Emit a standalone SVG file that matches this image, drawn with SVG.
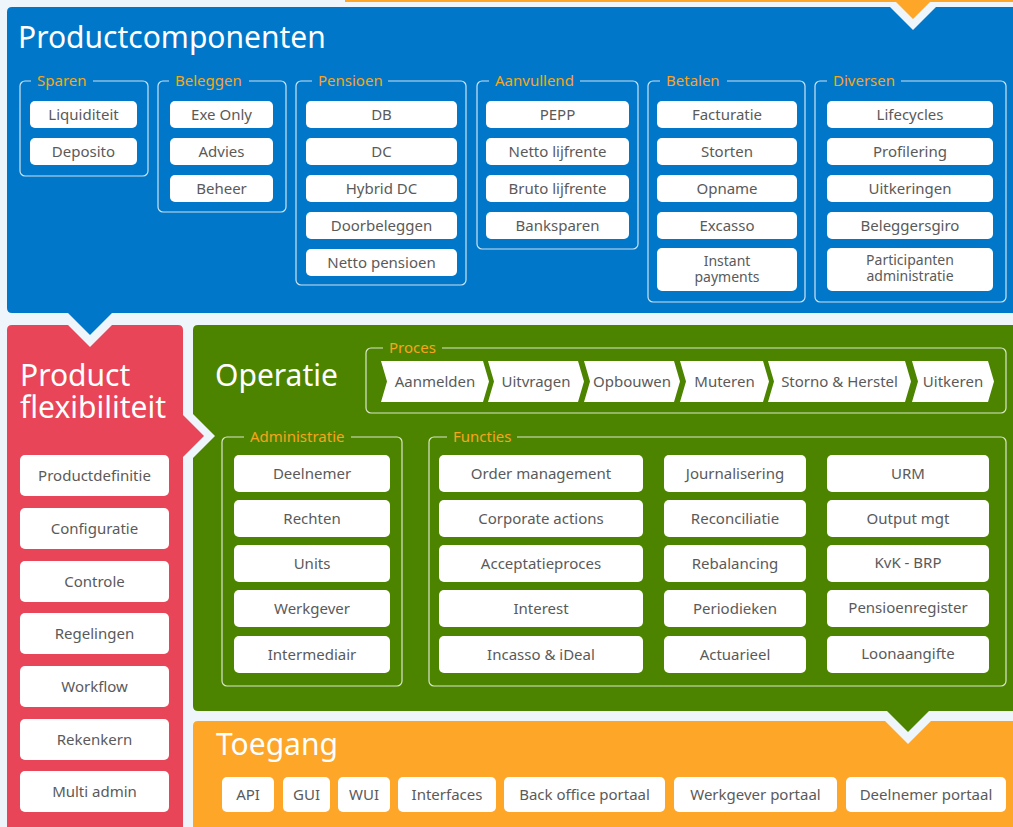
<svg xmlns="http://www.w3.org/2000/svg" width="1013" height="827" viewBox="0 0 1013 827">
<style>
text{font-family:"Noto Sans","Open Sans","DejaVu Sans",sans-serif;}
.title{fill:#ffffff;font-size:30px;}
.box rect{fill:#ffffff;}
.box text,.chev text{fill:#5a5a5a;font-size:15px;text-anchor:middle;}
.box text.sm{font-size:14px;}
.grp{fill:none;stroke:#ffffff;stroke-opacity:0.8;stroke-width:1.2;}
.lbl{fill:#f8a51d;font-size:15px;}
.chev path{fill:#ffffff;}
</style>
<rect width="1013" height="827" fill="#eef5fb"/>
<!-- panels -->
<path d="M345,-10 H1020 V2 H930 L913,19 L896,2 H345 Z" fill="#fea628"/>
<path d="M12,7 H890 L913,30 L936,7 H1020 V313 H112 L90,335 L68,313 H12 Q7,313 7,308 V12 Q7,7 12,7 Z" fill="#0077c8"/>
<path d="M12,325 H68 L90,347 L112,325 H178 Q183,325 183,330 V415 L204,436 L183,457 V830 H7 V330 Q7,325 12,325 Z" fill="#e84558"/>
<path d="M198,325 H1020 V711 H929 L908,732 L887,711 H198 Q193,711 193,706 V458 L215,436 L193,414 V330 Q193,325 198,325 Z" fill="#4c8400"/>
<path d="M198,721 H885 L908,744 L931,721 H1020 V830 H193 V726 Q193,721 198,721 Z" fill="#fea628"/>

<g id="connectors"/>

<!-- Productcomponenten -->
<g id="productcomponenten">
<text class="title" x="18" y="48">Productcomponenten</text>
<g id="sparen">
<rect class="grp" x="20" y="81" width="128" height="95" rx="5"/>
<rect x="31" y="75" width="62" height="12" fill="#0077c8"/>
<text class="lbl" x="37" y="86">Sparen</text>
<g class="box" id="liquiditeit"><rect x="30" y="101" width="107" height="27" rx="5"/><text x="83.5" y="119.5">Liquiditeit</text></g>
<g class="box" id="deposito"><rect x="30" y="138" width="107" height="27" rx="5"/><text x="83.5" y="156.5">Deposito</text></g>
</g>
<g id="beleggen">
<rect class="grp" x="158" y="81" width="128" height="131" rx="5"/>
<rect x="169" y="75" width="80" height="12" fill="#0077c8"/>
<text class="lbl" x="175" y="86">Beleggen</text>
<g class="box" id="exe-only"><rect x="170" y="101" width="103" height="27" rx="5"/><text x="221.5" y="119.5">Exe Only</text></g>
<g class="box" id="advies"><rect x="170" y="138" width="103" height="27" rx="5"/><text x="221.5" y="156.5">Advies</text></g>
<g class="box" id="beheer"><rect x="170" y="175" width="103" height="27" rx="5"/><text x="221.5" y="193.5">Beheer</text></g>
</g>
<g id="pensioen">
<rect class="grp" x="296" y="81" width="170" height="204" rx="5"/>
<rect x="312" y="75" width="76" height="12" fill="#0077c8"/>
<text class="lbl" x="318" y="86">Pensioen</text>
<g class="box" id="db"><rect x="306" y="101" width="151" height="27" rx="5"/><text x="381.5" y="119.5">DB</text></g>
<g class="box" id="dc"><rect x="306" y="138" width="151" height="27" rx="5"/><text x="381.5" y="156.5">DC</text></g>
<g class="box" id="hybrid-dc"><rect x="306" y="175" width="151" height="27" rx="5"/><text x="381.5" y="193.5">Hybrid DC</text></g>
<g class="box" id="doorbeleggen"><rect x="306" y="212" width="151" height="27" rx="5"/><text x="381.5" y="230.5">Doorbeleggen</text></g>
<g class="box" id="netto-pensioen"><rect x="306" y="249" width="151" height="27" rx="5"/><text x="381.5" y="267.5">Netto pensioen</text></g>
</g>
<g id="aanvullend">
<rect class="grp" x="477" y="81" width="161" height="168" rx="5"/>
<rect x="489" y="75" width="91" height="12" fill="#0077c8"/>
<text class="lbl" x="495" y="86">Aanvullend</text>
<g class="box" id="pepp"><rect x="486" y="101" width="143" height="27" rx="5"/><text x="557.5" y="119.5">PEPP</text></g>
<g class="box" id="netto-lijfrente"><rect x="486" y="138" width="143" height="27" rx="5"/><text x="557.5" y="156.5">Netto lijfrente</text></g>
<g class="box" id="bruto-lijfrente"><rect x="486" y="175" width="143" height="27" rx="5"/><text x="557.5" y="193.5">Bruto lijfrente</text></g>
<g class="box" id="banksparen"><rect x="486" y="212" width="143" height="27" rx="5"/><text x="557.5" y="230.5">Banksparen</text></g>
</g>
<g id="betalen">
<rect class="grp" x="648" y="81" width="157" height="221" rx="5"/>
<rect x="660" y="75" width="67" height="12" fill="#0077c8"/>
<text class="lbl" x="666" y="86">Betalen</text>
<g class="box" id="facturatie"><rect x="657" y="101" width="140" height="27" rx="5"/><text x="727" y="119.5">Facturatie</text></g>
<g class="box" id="storten"><rect x="657" y="138" width="140" height="27" rx="5"/><text x="727" y="156.5">Storten</text></g>
<g class="box" id="opname"><rect x="657" y="175" width="140" height="27" rx="5"/><text x="727" y="193.5">Opname</text></g>
<g class="box" id="excasso"><rect x="657" y="212" width="140" height="27" rx="5"/><text x="727" y="230.5">Excasso</text></g>
<g class="box" id="instant-payments"><rect x="657" y="248" width="140" height="43" rx="5"/><text class="sm"><tspan x="727" y="266">Instant</tspan><tspan x="727" y="282">payments</tspan></text></g>
</g>
<g id="diversen">
<rect class="grp" x="815" y="81" width="191" height="221" rx="5"/>
<rect x="827" y="75" width="74" height="12" fill="#0077c8"/>
<text class="lbl" x="833" y="86">Diversen</text>
<g class="box" id="lifecycles"><rect x="827" y="101" width="166" height="27" rx="5"/><text x="910" y="119.5">Lifecycles</text></g>
<g class="box" id="profilering"><rect x="827" y="138" width="166" height="27" rx="5"/><text x="910" y="156.5">Profilering</text></g>
<g class="box" id="uitkeringen"><rect x="827" y="175" width="166" height="27" rx="5"/><text x="910" y="193.5">Uitkeringen</text></g>
<g class="box" id="beleggersgiro"><rect x="827" y="212" width="166" height="27" rx="5"/><text x="910" y="230.5">Beleggersgiro</text></g>
<g class="box" id="participanten-administratie"><rect x="827" y="248" width="166" height="43" rx="5"/><text class="sm"><tspan x="910" y="265">Participanten</tspan><tspan x="910" y="281">administratie</tspan></text></g>
</g>
</g>

<!-- Product flexibiliteit -->
<g id="product-flexibiliteit">
<text class="title"><tspan x="20" y="386">Product</tspan><tspan x="20" y="418">flexibiliteit</tspan></text>
<g class="box" id="productdefinitie"><rect x="20" y="455" width="149" height="41" rx="5"/><text x="94.5" y="481">Productdefinitie</text></g>
<g class="box" id="configuratie"><rect x="20" y="508" width="149" height="41" rx="5"/><text x="94.5" y="534">Configuratie</text></g>
<g class="box" id="controle"><rect x="20" y="561" width="149" height="41" rx="5"/><text x="94.5" y="587">Controle</text></g>
<g class="box" id="regelingen"><rect x="20" y="613" width="149" height="41" rx="5"/><text x="94.5" y="639">Regelingen</text></g>
<g class="box" id="workflow"><rect x="20" y="666" width="149" height="41" rx="5"/><text x="94.5" y="692">Workflow</text></g>
<g class="box" id="rekenkern"><rect x="20" y="719" width="149" height="41" rx="5"/><text x="94.5" y="745">Rekenkern</text></g>
<g class="box" id="multi-admin"><rect x="20" y="771" width="149" height="41" rx="5"/><text x="94.5" y="797">Multi admin</text></g>
</g>

<!-- Operatie -->
<g id="operatie">
<text class="title" x="215" y="386">Operatie</text>
<g id="proces">
<rect class="grp" x="366" y="348" width="640" height="65" rx="5"/>
<rect x="383" y="342" width="59" height="12" fill="#4c8400"/>
<text class="lbl" x="389" y="353">Proces</text>
<g class="chev" id="aanmelden"><path d="M381,361 H483 L489,381.5 L483,402 H381 L387,381.5 Z"/><text x="435" y="386.5">Aanmelden</text></g>
<g class="chev" id="uitvragen"><path d="M488,361 H578 L584,381.5 L578,402 H488 L494,381.5 Z"/><text x="536" y="386.5">Uitvragen</text></g>
<g class="chev" id="opbouwen"><path d="M584,361 H674 L680,381.5 L674,402 H584 L590,381.5 Z"/><text x="632" y="386.5">Opbouwen</text></g>
<g class="chev" id="muteren"><path d="M680,361 H763 L769,381.5 L763,402 H680 L686,381.5 Z"/><text x="724.5" y="386.5">Muteren</text></g>
<g class="chev" id="storno-herstel"><path d="M768,361 H905 L911,381.5 L905,402 H768 L774,381.5 Z"/><text x="839.5" y="386.5">Storno &amp; Herstel</text></g>
<g class="chev" id="uitkeren"><path d="M912,361 H988 L994,381.5 L988,402 H912 L918,381.5 Z"/><text x="953" y="386.5">Uitkeren</text></g>
</g>
<g id="administratie">
<rect class="grp" x="222" y="437" width="180" height="249" rx="5"/>
<rect x="244" y="431" width="107" height="12" fill="#4c8400"/>
<text class="lbl" x="250" y="442">Administratie</text>
<g class="box" id="deelnemer"><rect x="234" y="455" width="156" height="37" rx="5"/><text x="312" y="478.5">Deelnemer</text></g>
<g class="box" id="rechten"><rect x="234" y="500" width="156" height="37" rx="5"/><text x="312" y="523.5">Rechten</text></g>
<g class="box" id="units"><rect x="234" y="545" width="156" height="37" rx="5"/><text x="312" y="568.5">Units</text></g>
<g class="box" id="werkgever"><rect x="234" y="590" width="156" height="37" rx="5"/><text x="312" y="613.5">Werkgever</text></g>
<g class="box" id="intermediair"><rect x="234" y="636" width="156" height="37" rx="5"/><text x="312" y="659.5">Intermediair</text></g>
</g>
<g id="functies">
<rect class="grp" x="429" y="437" width="577" height="249" rx="5"/>
<rect x="447" y="431" width="70" height="12" fill="#4c8400"/>
<text class="lbl" x="453" y="442">Functies</text>
<g class="box" id="order-management"><rect x="439" y="455" width="204" height="37" rx="5"/><text x="541" y="478.5">Order management</text></g>
<g class="box" id="corporate-actions"><rect x="439" y="500" width="204" height="37" rx="5"/><text x="541" y="523.5">Corporate actions</text></g>
<g class="box" id="acceptatieproces"><rect x="439" y="545" width="204" height="37" rx="5"/><text x="541" y="568.5">Acceptatieproces</text></g>
<g class="box" id="interest"><rect x="439" y="590" width="204" height="37" rx="5"/><text x="541" y="613.5">Interest</text></g>
<g class="box" id="incasso-ideal"><rect x="439" y="636" width="204" height="37" rx="5"/><text x="541" y="659.5">Incasso &amp; iDeal</text></g>
<g class="box" id="journalisering"><rect x="664" y="455" width="142" height="37" rx="5"/><text x="735" y="478.5">Journalisering</text></g>
<g class="box" id="reconciliatie"><rect x="664" y="500" width="142" height="37" rx="5"/><text x="735" y="523.5">Reconciliatie</text></g>
<g class="box" id="rebalancing"><rect x="664" y="545" width="142" height="37" rx="5"/><text x="735" y="568.5">Rebalancing</text></g>
<g class="box" id="periodieken"><rect x="664" y="590" width="142" height="37" rx="5"/><text x="735" y="613.5">Periodieken</text></g>
<g class="box" id="actuarieel"><rect x="664" y="636" width="142" height="37" rx="5"/><text x="735" y="659.5">Actuarieel</text></g>
<g class="box" id="urm"><rect x="827" y="455" width="162" height="37" rx="5"/><text x="908" y="478.5">URM</text></g>
<g class="box" id="output-mgt"><rect x="827" y="500" width="162" height="37" rx="5"/><text x="908" y="523.5">Output mgt</text></g>
<g class="box" id="kvk-brp"><rect x="827" y="545" width="162" height="37" rx="5"/><text x="908" y="568">KvK - BRP</text></g>
<g class="box" id="pensioenregister"><rect x="827" y="590" width="162" height="37" rx="5"/><text x="908" y="613">Pensioenregister</text></g>
<g class="box" id="loonaangifte"><rect x="827" y="636" width="162" height="37" rx="5"/><text x="908" y="658.5">Loonaangifte</text></g>
</g>
</g>

<!-- Toegang -->
<g id="toegang">
<text class="title" x="216" y="755">Toegang</text>
<g class="box" id="api"><rect x="222" y="777" width="52" height="35" rx="5"/><text x="248" y="800">API</text></g>
<g class="box" id="gui"><rect x="283" y="777" width="47" height="35" rx="5"/><text x="306.5" y="800">GUI</text></g>
<g class="box" id="wui"><rect x="338" y="777" width="52" height="35" rx="5"/><text x="364" y="800">WUI</text></g>
<g class="box" id="interfaces"><rect x="398" y="777" width="98" height="35" rx="5"/><text x="447" y="800">Interfaces</text></g>
<g class="box" id="back-office-portaal"><rect x="504" y="777" width="161" height="35" rx="5"/><text x="584.5" y="800">Back office portaal</text></g>
<g class="box" id="werkgever-portaal"><rect x="674" y="777" width="163" height="35" rx="5"/><text x="755.5" y="800">Werkgever portaal</text></g>
<g class="box" id="deelnemer-portaal"><rect x="846" y="777" width="160" height="35" rx="5"/><text x="926" y="800">Deelnemer portaal</text></g>
</g>
</svg>
